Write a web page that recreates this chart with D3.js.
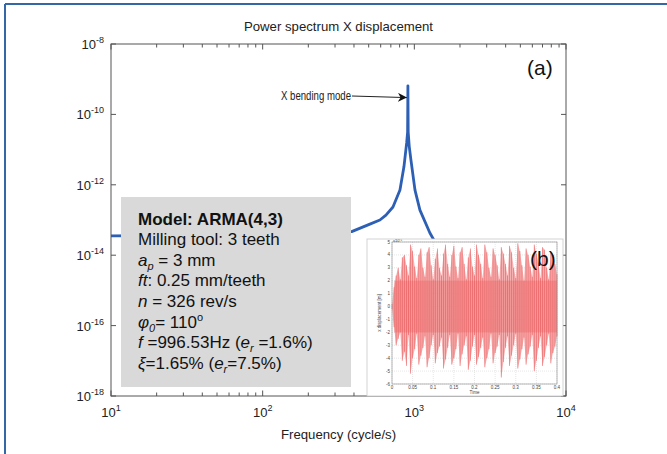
<!DOCTYPE html>
<html><head><meta charset="utf-8">
<script src="https://cdn.jsdelivr.net/npm/d3@7"></script>
<style>
html,body{margin:0;padding:0;background:#fff;}
svg{display:block;font-family:"Liberation Sans",Arial,sans-serif;}
</style></head>
<body>
<svg id="c" width="667" height="454"></svg>
<script>
// ---- main spectrum data ----
const freq = [10, 30, 100, 200, 300, 386, 500, 593, 650, 723, 804, 854, 890, 903, 907, 911, 925, 950, 1010, 1089, 1267, 1400];
const psd  = [3.55e-14, 3.63e-14, 3.8e-14, 4.07e-14, 4.37e-14, 4.68e-14, 7.41e-14, 1.0e-13, 1.38e-13, 2.34e-13, 7.08e-13, 3.24e-12, 1.55e-11, 3.16e-11, 6.46e-10, 3.16e-11, 1.26e-11, 5.01e-12, 7.08e-13, 1.91e-13, 4.27e-14, 2.0e-14];
const xTickExp = [1, 2, 3, 4];
const yTickExp = [-8, -10, -12, -14, -16, -18];
const titleText = "Power spectrum X displacement";
const xLabelText = "Frequency (cycle/s)";
const peakLabel = "X bending mode";
const peakFreq = 907;
const peakArrowVal = 3.0e-10;

// ---- annotation box lines ----
const boxLines = [
  [{t:"Model: ARMA(4,3)", b:true}],
  [{t:"Milling tool: 3 teeth"}],
  [{t:"a", i:true},{t:"p", i:true, sub:true},{t:" = 3 mm"}],
  [{t:"ft", i:true},{t:": 0.25 mm/teeth"}],
  [{t:"n", i:true},{t:" = 326 rev/s"}],
  [{t:"φ", i:true},{t:"0", i:true, sub:true},{t:"= 110"},{t:"o", sup:true}],
  [{t:"f", i:true},{t:" =996.53Hz ("},{t:"e", i:true},{t:"r", i:true, sub:true},{t:" =1.6%)"}],
  [{t:"ξ", i:true},{t:"=1.65% ("},{t:"e", i:true},{t:"r", i:true, sub:true},{t:"=7.5%)"}]
];

// ---- inset (b) time signal envelope (x1e-8 m) ----
const sigT = [0,0.005,0.01,0.015,0.02,0.025,0.03,0.035,0.04,0.045,0.05,0.055,0.06,0.065,0.07,0.075,0.08,0.085,0.09,0.095,0.1,0.105,0.11,0.115,0.12,0.125,0.13,0.135,0.14,0.145,0.15,0.155,0.16,0.165,0.17,0.175,0.18,0.185,0.19,0.195,0.2,0.205,0.21,0.215,0.22,0.225,0.23,0.235,0.24,0.245,0.25,0.255,0.26,0.265,0.27,0.275,0.28,0.285,0.29,0.295,0.3,0.305,0.31,0.315,0.32,0.325,0.33,0.335,0.34,0.345,0.35,0.355,0.36,0.365,0.37,0.375,0.38,0.385,0.39,0.395,0.4];
const sigU = [0.2,1.5,2.4,3.0,2.1,3.8,4.0,3.2,2.4,4.8, 4.3,3.1,2.2,4.0,4.5,3.0,2.3,4.2,4.6,3.2, 2.1,3.7,4.5,3.0,2.4,4.1,4.8,3.3,2.3,4.0, 4.7,3.1,2.2,4.2,4.6,3.3,2.1,3.8,4.5,3.1, 2.4,4.8,4.0,3.3,2.2,4.8,4.2,3.0,2.3,4.5, 4.0,3.2,2.1,4.6,4.1,3.3,2.4,4.7,4.2,3.0, 2.2,4.9,4.3,3.2,2.0,4.5,4.0,3.1,2.3,4.8, 4.1,3.4,2.2,4.6,4.4,3.0,2.1,4.2,4.0,3.3, 2.5];
const sigL = [-0.2,-1.6,-3.0,-2.5,-2.0,-4.2,-3.5,-4.6,-2.2,-5.2, -4.0,-3.3,-2.1,-4.5,-3.8,-3.2,-2.3,-4.7,-4.0,-3.0, -2.2,-4.4,-3.6,-3.1,-2.4,-4.8,-4.1,-3.2,-2.2,-4.5, -4.0,-3.3,-2.1,-4.6,-3.7,-3.0,-2.3,-4.9,-4.2,-3.1, -2.2,-4.5,-3.9,-3.2,-2.4,-4.7,-4.0,-3.3,-2.1,-4.4, -3.6,-3.1,-2.2,-5.5,-4.3,-3.2,-2.3,-4.6,-3.8,-3.0, -2.1,-4.8,-4.1,-3.3,-2.4,-4.5,-3.7,-3.1,-2.2,-5.0, -4.2,-3.2,-2.3,-4.6,-3.9,-3.0,-2.1,-4.4,-3.6,-3.1, -2.3];
const insetYTicks = [5,4,3,2,1,0,-1,-2,-3,-4,-5,-6];
const insetXTicks = [0,0.05,0.1,0.15,0.2,0.25,0.3,0.35,0.4];
const insetXTickLabels = ["0","0.05","0.1","0.15","0.2","0.25","0.3","0.35","0.4"];

const svg = d3.select("#c");

// outer figure frame (top & left blue edges)
svg.append("line").attr("x1",5).attr("y1",4).attr("x2",667).attr("y2",4).attr("stroke","#3566a6").attr("stroke-width",2);
svg.append("line").attr("x1",5).attr("y1",4).attr("x2",5).attr("y2",454).attr("stroke","#3566a6").attr("stroke-width",2);

const L=111, R=566, T=44, B=396;
const x = d3.scaleLog().domain([10,1e4]).range([L,R]);
const y = d3.scaleLog().domain([1e-18,1e-8]).range([B,T]);

const axisColor = "#555";
const xMinor = [];
for (let e=1;e<4;e++) for (let m=2;m<10;m++) xMinor.push(m*Math.pow(10,e));
const g = svg.append("g");
xMinor.forEach(v=>{
  g.append("line").attr("x1",x(v)).attr("x2",x(v)).attr("y1",B).attr("y2",B-3.5).attr("stroke",axisColor);
  g.append("line").attr("x1",x(v)).attr("x2",x(v)).attr("y1",T).attr("y2",T+3.5).attr("stroke",axisColor);
});
xTickExp.forEach(e=>{
  const v=Math.pow(10,e);
  g.append("line").attr("x1",x(v)).attr("x2",x(v)).attr("y1",B).attr("y2",B-5.5).attr("stroke",axisColor);
  g.append("line").attr("x1",x(v)).attr("x2",x(v)).attr("y1",T).attr("y2",T+5.5).attr("stroke",axisColor);
});
yTickExp.forEach(e=>{
  const v=Math.pow(10,e);
  g.append("line").attr("x1",L).attr("x2",L+5).attr("y1",y(v)).attr("y2",y(v)).attr("stroke",axisColor);
  g.append("line").attr("x1",R).attr("x2",R-5).attr("y1",y(v)).attr("y2",y(v)).attr("stroke",axisColor);
});

// spectrum line
const line = d3.line().x((d,i)=>x(freq[i])).y((d,i)=>y(psd[i]));
svg.append("path").attr("d",line(freq)).attr("fill","none").attr("stroke","#2d5fb5").attr("stroke-width",2.8).attr("stroke-linejoin","round");

// frame
svg.append("rect").attr("x",L).attr("y",T).attr("width",R-L).attr("height",B-T).attr("fill","none").attr("stroke",axisColor).attr("stroke-width",1);

// tick labels
const tl = svg.append("g").attr("fill","#222");
xTickExp.forEach(e=>{
  const t = tl.append("text").attr("x",x(Math.pow(10,e))).attr("y",417).attr("text-anchor","middle").attr("font-size",13);
  t.append("tspan").text("10");
  t.append("tspan").attr("dy",-6).attr("font-size",9).text(e);
});
yTickExp.forEach(e=>{
  const t = tl.append("text").attr("x",104).attr("y",y(Math.pow(10,e))+5).attr("text-anchor","end").attr("font-size",13);
  t.append("tspan").text("10");
  t.append("tspan").attr("dy",-6).attr("font-size",9).text(e);
});

svg.append("text").attr("x",(L+R)/2).attr("y",31).attr("text-anchor","middle").attr("font-size",13.2).attr("fill","#222").text(titleText);
svg.append("text").attr("x",(L+R)/2).attr("y",439).attr("text-anchor","middle").attr("font-size",13.2).attr("fill","#222").text(xLabelText);

// annotation arrow
const ax = x(peakFreq)-1, ay = y(peakArrowVal);
svg.append("defs").append("marker").attr("id","ah").attr("viewBox","0 0 10 10").attr("refX",10).attr("refY",5)
  .attr("markerWidth",9).attr("markerHeight",9).attr("orient","auto").attr("markerUnits","userSpaceOnUse")
  .append("path").attr("d","M0,0 L10,5 L0,10 L3,5 Z").attr("fill","#111");
svg.append("line").attr("x1",352).attr("y1",96).attr("x2",ax).attr("y2",ay).attr("stroke","#222").attr("stroke-width",1).attr("marker-end","url(#ah)");
svg.append("text").attr("x",351).attr("y",100).attr("text-anchor","end").attr("font-size",12)
  .attr("textLength",70).attr("lengthAdjust","spacingAndGlyphs").attr("fill","#222").text(peakLabel);

svg.append("text").attr("x",527).attr("y",75).attr("font-size",21).attr("fill","#111").text("(a)");

// annotation box
svg.append("rect").attr("x",121).attr("y",197).attr("width",230).attr("height",190).attr("fill","#d9d9d9");
const bx = 138, by0 = 224.5, dyLine = 20.65;
boxLines.forEach((segs,li)=>{
  const t = svg.append("text").attr("x",bx).attr("y",by0+li*dyLine).attr("font-size",17).attr("fill","#111");
  let shift = 0;
  segs.forEach(s=>{
    const sp = t.append("tspan").text(s.t);
    if (s.b) sp.attr("font-weight","bold");
    if (s.i) sp.attr("font-style","italic");
    let target = 0;
    if (s.sub) { target = 4; sp.attr("font-size",11); }
    if (s.sup) { target = -7; sp.attr("font-size",11); }
    if (target !== shift) { sp.attr("dy", target - shift); shift = target; }
  });
});

// ---- inset (b) ----
const ig = svg.append("g");
ig.append("rect").attr("x",367).attr("y",239).attr("width",196).attr("height",157).attr("fill","#fff").attr("stroke","#c8c8c8").attr("stroke-width",0.8);
const iL=392, iR=557, iT=242, iB=384;
const ix = d3.scaleLinear().domain([0,0.4]).range([iL,iR]);
const iy = d3.scaleLinear().domain([-6,5]).range([iB,iT]);
insetYTicks.forEach(v=>{
  ig.append("line").attr("x1",iL).attr("x2",iR).attr("y1",iy(v)).attr("y2",iy(v)).attr("stroke","#ccc").attr("stroke-width",0.5).attr("stroke-dasharray","1,1");
});
insetXTicks.forEach(v=>{
  ig.append("line").attr("x1",ix(v)).attr("x2",ix(v)).attr("y1",iT).attr("y2",iB).attr("stroke","#ccc").attr("stroke-width",0.5).attr("stroke-dasharray","1,1");
});
const area = d3.area().x((d,i)=>ix(sigT[i])).y0((d,i)=>iy(sigL[i])).y1((d,i)=>iy(sigU[i]));
ig.append("path").attr("d",area(sigT)).attr("fill","#f5a5a5").attr("opacity",0.85);
ig.append("rect").attr("x",ix(0.005)).attr("y",iy(2)).attr("width",iR-ix(0.005)).attr("height",iy(-2)-iy(2)).attr("fill","#ee6b6b").attr("opacity",0.4);
sigT.forEach((t,i)=>{
  ig.append("line").attr("x1",ix(t)).attr("x2",ix(t)).attr("y1",iy(sigL[i])).attr("y2",iy(sigU[i])).attr("stroke","#e84a4e").attr("stroke-width",0.7).attr("opacity",0.75);
});
ig.append("rect").attr("x",iL).attr("y",iT).attr("width",iR-iL).attr("height",iB-iT).attr("fill","none").attr("stroke","#888").attr("stroke-width",0.6);
insetYTicks.forEach(v=>{
  ig.append("text").attr("x",iL-2).attr("y",iy(v)+1.5).attr("text-anchor","end").attr("font-size",4.5).attr("fill","#444").text(v);
});
insetXTicks.forEach((v,i)=>{
  ig.append("text").attr("x",ix(v)).attr("y",iB+5).attr("text-anchor","middle").attr("font-size",4.5).attr("fill","#444").text(insetXTickLabels[i]);
});
ig.append("text").attr("x",iL+1).attr("y",iT-0.5).attr("font-size",4).attr("fill","#444").text("x10⁻⁸");
ig.append("text").attr("x",(iL+iR)/2).attr("y",iB+10).attr("text-anchor","middle").attr("font-size",4.5).attr("fill","#444").text("Time");
ig.append("text").attr("transform",`translate(381,${(iT+iB)/2}) rotate(-90)`).attr("text-anchor","middle").attr("font-size",4.5).attr("fill","#444").text("x displacement [m]");
svg.append("text").attr("x",530).attr("y",266).attr("font-size",21).attr("fill","#111").text("(b)");
</script>
</body></html>
